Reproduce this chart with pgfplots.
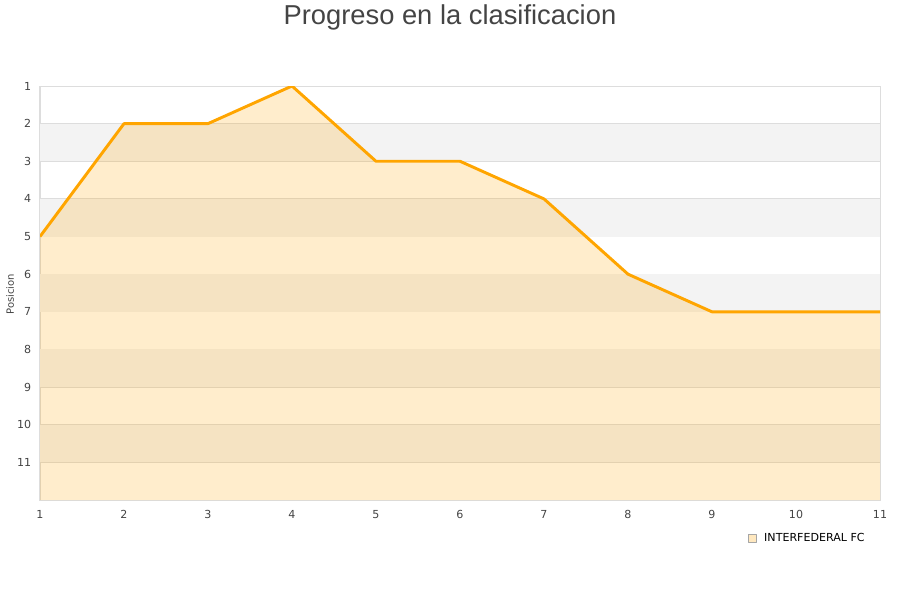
\documentclass[border=0pt]{standalone}
\usepackage{pgfplots}
\pgfplotsset{compat=1.18}
\usepackage{fontspec}
\setmainfont{DejaVu Sans}
\newfontfamily\titlefont{Liberation Sans}
\definecolor{lineor}{HTML}{FFA500}
\definecolor{band}{HTML}{F3F3F3}
\definecolor{gridc}{HTML}{DDDDDD}
\definecolor{txt}{HTML}{444444}
\begin{document}
\begin{tikzpicture}[x=0.75pt,y=0.75pt]
% page = 900x600 px, axis box at (40,86)-(880,500) px
\path[use as bounding box] (-40,-100) rectangle (860,500);
\begin{axis}[
    at={(0,0)}, anchor=south west,
    scale only axis,
    width=630pt, height=310.5pt,
    xmin=1, xmax=11, ymin=1, ymax=12,
    y dir=reverse,
    xtick={1,...,11}, ytick={1,...,11},
    tick style={draw=none},
    ticklabel style={font=\fontsize{8.3}{9}\selectfont, text=txt},
    xticklabel style={yshift=-4pt},
    yticklabel style={xshift=-3pt},
    /pgf/number format/assume math mode=true,
    axis line style={draw=gridc, line width=0.75pt},
    ymajorgrids, grid style={draw=gridc, line width=0.75pt},
    ylabel={Posicion},
    ylabel style={font=\fontsize{7.5}{8}\selectfont, text=txt, at={(ticklabel cs:0.5)}, xshift=-1pt, yshift=-4.5pt},
    title={\titlefont Progreso en la clasificacion},
    title style={font=\fontsize{20.5}{22}\selectfont, text=txt, at={(0.488,1)}, yshift=32pt},
    legend style={at={(0.99,-0.067)}, anchor=north east, draw=none, fill=none,
      font=\fontsize{8.3}{9}\selectfont},
    legend image code/.code={\draw[draw=gray!70, fill=lineor!25, line width=0.4pt] (0pt,-3pt) rectangle (6pt,3pt);},
    legend cell align=left,
  ]
  % alternating bands
  \addplot[fill=band, draw=none, forget plot] coordinates {(1,2) (11,2) (11,3) (1,3)} -- cycle;
  \addplot[fill=band, draw=none, forget plot] coordinates {(1,4) (11,4) (11,5) (1,5)} -- cycle;
  \addplot[fill=band, draw=none, forget plot] coordinates {(1,6) (11,6) (11,7) (1,7)} -- cycle;
  \addplot[fill=band, draw=none, forget plot] coordinates {(1,8) (11,8) (11,9) (1,9)} -- cycle;
  \addplot[fill=band, draw=none, forget plot] coordinates {(1,10) (11,10) (11,11) (1,11)} -- cycle;
  % area under the line
  \addplot[fill=lineor, fill opacity=0.2, draw=none, forget plot] coordinates {
    (1,5) (2,2) (3,2) (4,1) (5,3) (6,3) (7,4) (8,6) (9,7) (10,7) (11,7) (11,12) (1,12)
  } -- cycle;
  \addplot[draw=lineor, line width=2.2pt, line join=round] coordinates {
    (1,5) (2,2) (3,2) (4,1) (5,3) (6,3) (7,4) (8,6) (9,7) (10,7) (11,7)
  };
  \addlegendentry{\hspace{4pt}INTERFEDERAL FC}
\end{axis}
\end{tikzpicture}
\end{document}
